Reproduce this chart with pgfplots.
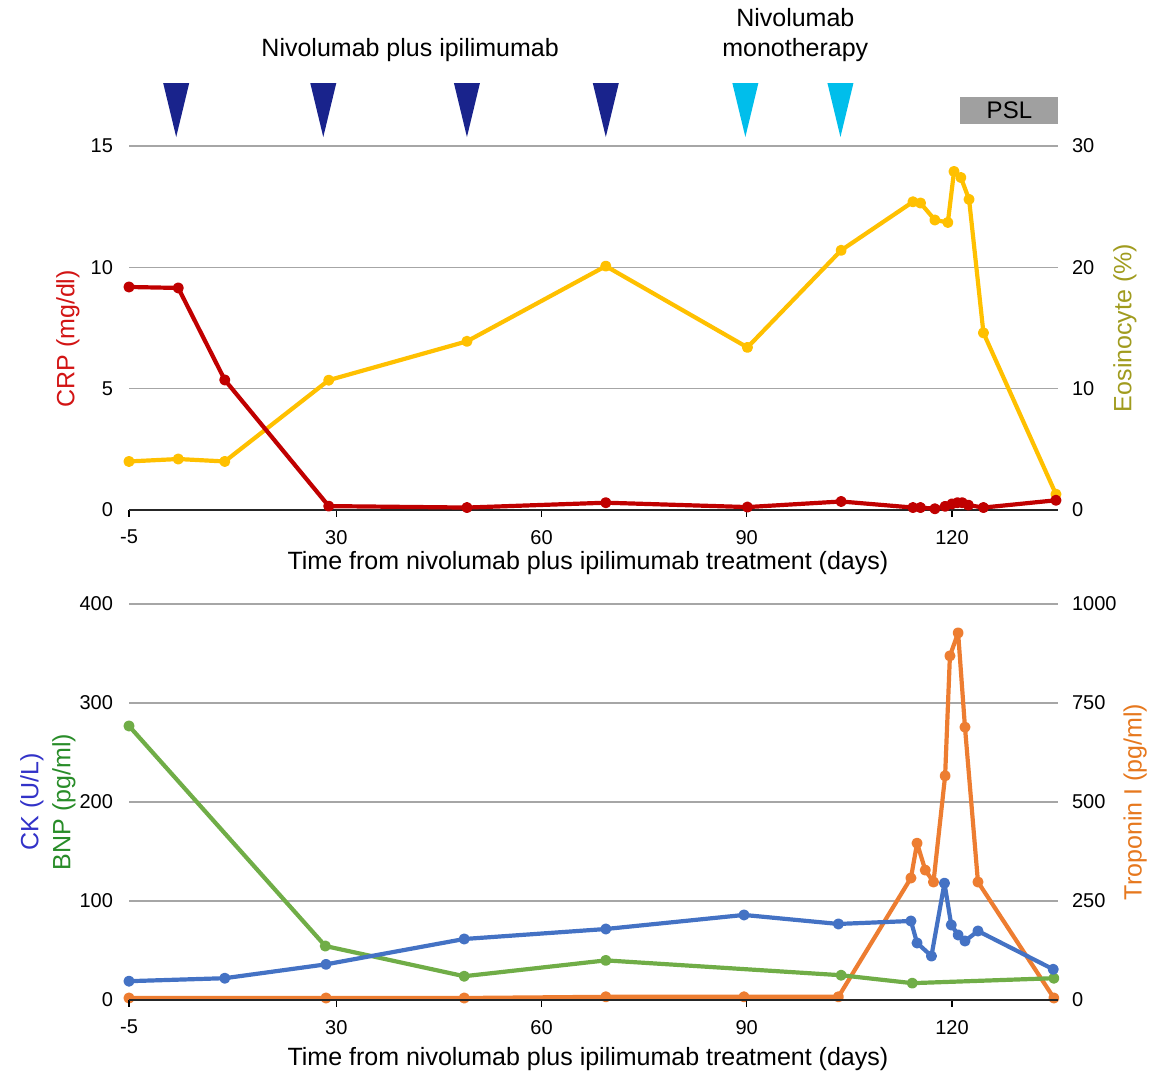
\documentclass[border=0pt]{standalone}
\usepackage{pgfplots}
\pgfplotsset{compat=1.18}
\usepackage{fontspec}
\setmainfont{Liberation Sans}
\setsansfont{Liberation Sans}
\definecolor{crpred}{RGB}{192,0,0}
\definecolor{crplab}{RGB}{210,20,20}
\definecolor{eosy}{RGB}{255,192,0}
\definecolor{eoslab}{RGB}{160,155,30}
\definecolor{ckblue}{RGB}{68,114,196}
\definecolor{cklab}{RGB}{50,50,200}
\definecolor{bnpg}{RGB}{112,173,71}
\definecolor{bnplab}{RGB}{40,140,40}
\definecolor{tropo}{RGB}{237,125,49}
\definecolor{troplab}{RGB}{230,120,30}
\definecolor{navy}{RGB}{25,35,140}
\definecolor{lightb}{RGB}{0,190,235}
\definecolor{pslgray}{RGB}{160,160,160}
\pgfplotsset{
  base/.style={
    scale only axis, width=464.5pt,
    xmin=-0.3, xmax=135.5,
    /pgf/number format/assume math mode=true,
    /pgf/number format/1000 sep={},
    tick label style={font=\fontsize{10}{12}\selectfont},
    label style={font=\fontsize{12.5}{16}\selectfont},
    ytick style={draw=none},
    y axis line style={draw=none},
  },
  leftax/.style={yticklabel style={xshift=-1pt}},
  rightax/.style={yticklabel style={xshift=3.5pt}},
  xax/.style={
    axis x line*=bottom,
    x axis line style={black!85, line width=1pt, -},
    xtick={-0.3,30,60,90,120}, xticklabels={-5,30,60,90,120},
    xtick style={black, line width=0.6pt}, tick align=outside, major tick length=3.5pt,
    xticklabel style={yshift=-3pt},
  },
  ser/.style={line width=2.1pt, line join=round, line cap=round, mark=*, mark size=1.7pt},
}
\begin{document}
\begin{tikzpicture}
\path[use as bounding box] (0,0) rectangle (576.5pt,537.5pt);
% ---------- top panel: eosinocyte (right) ----------
\begin{axis}[base, rightax, at={(64.5pt,282.5pt)}, anchor=south west, height=182pt,
  ymin=0, ymax=30, ytick={0,10,20,30},
  axis y line*=right, axis x line=none,
  ymajorgrids, major grid style={gray!70, line width=0.6pt},
  ylabel={\textcolor{eoslab}{Eosinocyte (\%)}},
  ylabel style={at={(axis description cs:1.072,0.5)}, anchor=center},
]
\addplot[ser, color=eosy] coordinates {
(-0.3,4.0)(6.9,4.2)(13.7,4.0)(28.9,10.7)(49.1,13.9)(69.4,20.1)(90.1,13.4)(103.8,21.4)
(114.3,25.4)(115.4,25.3)(117.5,23.9)(119.4,23.7)(120.3,27.9)(121.3,27.4)(122.5,25.6)(124.6,14.6)(135.2,1.3)};
\end{axis}
% ---------- top panel: CRP (left) ----------
\begin{axis}[base, leftax, xax, at={(64.5pt,282.5pt)}, anchor=south west, height=182pt,
  ymin=0, ymax=15, ytick={0,5,10,15}, clip=false,
  axis y line*=left,
  xlabel={Time from nivolumab plus ipilimumab treatment (days)},
  xlabel style={at={(axis description cs:0.494,-0.1456)}, anchor=center},
  ylabel={\textcolor{crplab}{CRP (mg/dl)}},
  ylabel style={at={(axis description cs:-0.0657,0.47)}, anchor=center},
]
\addplot[ser, color=crpred] coordinates {
(-0.3,9.19)(6.9,9.15)(13.7,5.36)(28.9,0.16)(49.1,0.1)(69.4,0.3)(90.1,0.12)(103.8,0.35)
(114.3,0.1)(115.4,0.1)(117.5,0.05)(119.0,0.15)(120.0,0.25)(120.8,0.3)(121.5,0.3)(122.4,0.2)(124.6,0.1)(135.2,0.4)};
% treatment triangles
\addplot[fill=navy, draw=none] coordinates {(4.7,17.59)(8.5,17.59)(6.6,15.37)};
\addplot[fill=navy, draw=none] coordinates {(26.2,17.59)(30.0,17.59)(28.1,15.37)};
\addplot[fill=navy, draw=none] coordinates {(47.2,17.59)(51.0,17.59)(49.1,15.37)};
\addplot[fill=navy, draw=none] coordinates {(67.5,17.59)(71.3,17.59)(69.4,15.37)};
\addplot[fill=lightb, draw=none] coordinates {(87.9,17.59)(91.7,17.59)(89.8,15.37)};
\addplot[fill=lightb, draw=none] coordinates {(101.8,17.59)(105.6,17.59)(103.7,15.37)};
\addplot[fill=pslgray, draw=none] coordinates {(121.2,15.9)(135.5,15.9)(135.5,17.02)(121.2,17.02)};
\node[font=\fontsize{12}{14}\selectfont] at (axis cs:128.4,16.46) {PSL};
\node[font=\fontsize{12.5}{15}\selectfont] at (axis cs:40.8,18.95) {Nivolumab plus ipilimumab};
\node[font=\fontsize{12.5}{15}\selectfont, align=center] at (axis cs:97.1,19.57) {Nivolumab\\monotherapy};
\end{axis}
% ---------- bottom panel: troponin (right) ----------
\begin{axis}[base, rightax, at={(64.5pt,37.5pt)}, anchor=south west, height=198pt,
  ymin=0, ymax=1000, ytick={0,250,500,750,1000},
  axis y line*=right, axis x line=none,
  ymajorgrids, major grid style={gray!70, line width=0.6pt},
  ylabel={\textcolor{troplab}{Troponin I (pg/ml)}},
  ylabel style={at={(axis description cs:1.083,0.5)}, anchor=center},
]
\addplot[ser, color=tropo] coordinates {
(-0.3,5)(28.5,5)(48.7,5)(69.4,8)(89.6,8)(103.4,8)(114.0,308)(114.9,396)(116.1,328)(117.3,298)
(119.0,566)(119.7,869)(120.9,927)(121.9,689)(123.8,298)(134.9,5)};
\end{axis}
% ---------- bottom panel: CK and BNP (left) ----------
\begin{axis}[base, leftax, xax, at={(64.5pt,37.5pt)}, anchor=south west, height=198pt,
  ymin=0, ymax=400, ytick={0,100,200,300,400},
  axis y line*=left,
  xlabel={Time from nivolumab plus ipilimumab treatment (days)},
  xlabel style={at={(axis description cs:0.494,-0.148)}, anchor=center},
  ylabel={\textcolor{cklab}{CK (U/L)}\\\textcolor{bnplab}{BNP (pg/ml)}},
  ylabel style={at={(axis description cs:-0.0872,0.5)}, anchor=center, align=center},
]
\addplot[ser, color=bnpg] coordinates {
(-0.3,276.8)(28.4,54.5)(48.7,24)(69.4,40)(103.8,25)(114.2,17)(134.9,22)};
\addplot[ser, color=ckblue] coordinates {
(-0.3,19)(13.7,22)(28.5,36)(48.7,61.6)(69.4,71.7)(89.6,85.9)(103.4,76.8)(114.0,79.8)(114.9,57.6)
(117.0,44.4)(118.9,118)(119.9,75.8)(120.9,65.7)(121.9,59.6)(123.8,69.7)(134.8,31)};
\end{axis}
\end{tikzpicture}
\end{document}
